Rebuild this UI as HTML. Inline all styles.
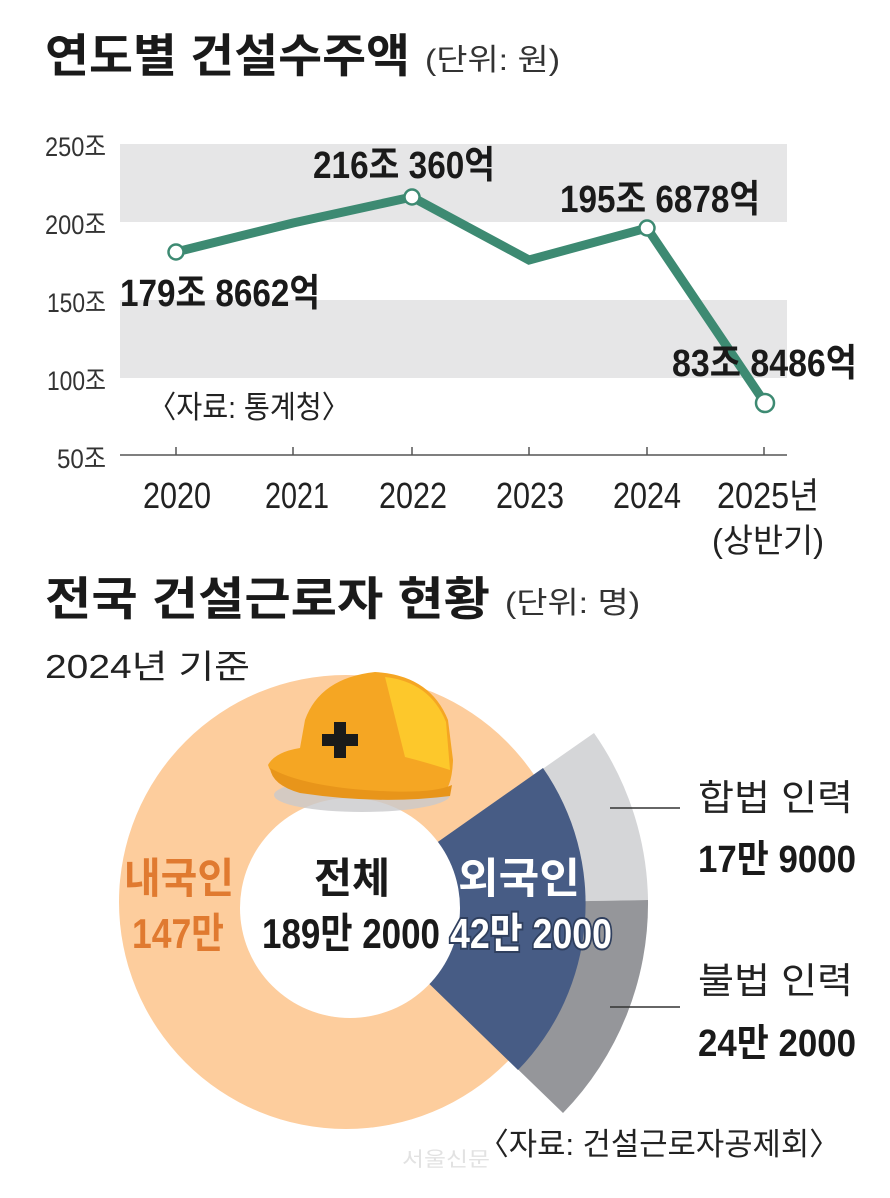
<!DOCTYPE html>
<html><head><meta charset="utf-8"><style>
html,body{margin:0;padding:0;background:#fff;}
svg{display:block}
text{font-family:"Liberation Sans Narrow","Liberation Sans","Noto Sans CJK KR",sans-serif}
.b{font-weight:bold}
</style></head><body>
<svg width="890" height="1198" viewBox="0 0 890 1198" xmlns="http://www.w3.org/2000/svg" fill="#1a1a1a">
<rect width="890" height="1198" fill="#fff"/>
<text x="45" y="72" font-size="46" class="b" textLength="365" lengthAdjust="spacingAndGlyphs">연도별 건설수주액</text>
<text x="425" y="70" font-size="30" textLength="135" lengthAdjust="spacingAndGlyphs" fill="#333">(단위: 원)</text>

<rect x="120" y="144" width="667" height="78" fill="#e6e6e7"/>
<rect x="120" y="300" width="667" height="78" fill="#e6e6e7"/>
<g font-size="27" fill="#333">
<text x="45" y="156" textLength="61" lengthAdjust="spacingAndGlyphs">250조</text>
<text x="45" y="234" textLength="61" lengthAdjust="spacingAndGlyphs">200조</text>
<text x="47" y="312" textLength="59" lengthAdjust="spacingAndGlyphs">150조</text>
<text x="47" y="390" textLength="59" lengthAdjust="spacingAndGlyphs">100조</text>
<text x="57" y="468" textLength="49" lengthAdjust="spacingAndGlyphs">50조</text>
</g>
<line x1="120" y1="455" x2="787" y2="455" stroke="#555" stroke-width="1.5"/>
<g stroke="#555" stroke-width="1.5">
<line x1="176" y1="447" x2="176" y2="455"/><line x1="293" y1="447" x2="293" y2="455"/>
<line x1="412" y1="447" x2="412" y2="455"/><line x1="529" y1="447" x2="529" y2="455"/>
<line x1="647" y1="447" x2="647" y2="455"/><line x1="764" y1="447" x2="764" y2="455"/>
</g>
<g font-size="36" fill="#222" text-anchor="middle">
<text x="177" y="508" textLength="68" lengthAdjust="spacingAndGlyphs">2020</text>
<text x="297" y="508" textLength="64" lengthAdjust="spacingAndGlyphs">2021</text>
<text x="413" y="508" textLength="68" lengthAdjust="spacingAndGlyphs">2022</text>
<text x="530" y="508" textLength="68" lengthAdjust="spacingAndGlyphs">2023</text>
<text x="647" y="508" textLength="68" lengthAdjust="spacingAndGlyphs">2024</text>
<text x="768" y="508" textLength="102" lengthAdjust="spacingAndGlyphs">2025년</text>
<text x="768" y="552" font-size="33" textLength="112" lengthAdjust="spacingAndGlyphs">(상반기)</text>
</g>
<polyline points="176,252 293,223 412,197 529,260 647,228 765,403" fill="none" stroke="#3d8a72" stroke-width="9" stroke-linejoin="miter"/>
<g fill="#fff" stroke="#3d8a72" stroke-width="2.5">
<circle cx="176" cy="252" r="7.5"/><circle cx="412" cy="197" r="7.5"/>
<circle cx="647" cy="228" r="7.5"/><circle cx="765" cy="403" r="9"/>
</g>
<g font-size="38" class="b" fill="#1a1a1a">
<text x="313" y="178" textLength="182" lengthAdjust="spacingAndGlyphs">216조 360억</text>
<text x="560" y="212" textLength="200" lengthAdjust="spacingAndGlyphs">195조 6878억</text>
<text x="120" y="306" textLength="200" lengthAdjust="spacingAndGlyphs">179조 8662억</text>
<text x="672" y="376" textLength="185" lengthAdjust="spacingAndGlyphs">83조 8486억</text>
</g>
<text x="148" y="418" font-size="31" fill="#222" textLength="202" lengthAdjust="spacingAndGlyphs">〈자료: 통계청〉</text>

<text x="45" y="615" font-size="46" class="b" textLength="445" lengthAdjust="spacingAndGlyphs">전국 건설근로자 현황</text>
<text x="505" y="613" font-size="30" textLength="135" lengthAdjust="spacingAndGlyphs" fill="#333">(단위: 명)</text>
<text x="45" y="678" font-size="33" fill="#222" textLength="205" lengthAdjust="spacingAndGlyphs">2024년 기준</text>

<circle cx="346" cy="902" r="227" fill="#fdcd9d"/>
<path d="M348,905 L594,733 A300,300 0 0 1 648,900 Z" fill="#d5d6d8"/>
<path d="M348,905 L648,900 A300,300 0 0 1 563,1113 Z" fill="#95969a"/>
<path d="M348,905 L543,768 A238,238 0 0 1 518,1070 Z" fill="#475c85"/>
<circle cx="350" cy="908" r="110" fill="#fff"/>
<!-- hardhat -->
<ellipse cx="362" cy="795" rx="88" ry="17" fill="#c9c9cc" opacity="0.8"/>
<path d="M268,765 Q275,752 300,748 L305,720 Q320,678 375,672 Q430,675 448,720 L453,760 Q452,790 440,795 Q360,800 300,785 Q272,780 268,765 Z" fill="#f5a623"/>
<path d="M385,677 Q430,682 446,722 L450,770 Q425,762 405,757 Z" fill="#fdc82b"/>
<path d="M270,768 Q300,785 365,790 Q430,795 452,785 L450,796 Q380,805 300,793 Q272,785 270,768 Z" fill="#e8951a"/>
<path d="M322,734 h12 v-12 h12 v12 h12 v12 h-12 v12 h-12 v-12 h-12 z" fill="#1a1a1a"/>
<g font-size="42" class="b">
<text x="124" y="893" fill="#e07a30" textLength="110" lengthAdjust="spacingAndGlyphs">내국인</text>
<text x="132" y="948" fill="#e07a30" textLength="92" lengthAdjust="spacingAndGlyphs">147만</text>
<text x="314" y="893" fill="#1a1a1a" textLength="76" lengthAdjust="spacingAndGlyphs">전체</text>
<text x="262" y="948" fill="#1a1a1a" textLength="178" lengthAdjust="spacingAndGlyphs">189만 2000</text>
<text x="458" y="893" fill="#ffffff" textLength="122" lengthAdjust="spacingAndGlyphs">외국인</text>
<text x="450" y="948" fill="#ffffff" stroke="#2f3f5e" stroke-width="4" paint-order="stroke" textLength="162" lengthAdjust="spacingAndGlyphs">42만 2000</text>
</g>
<line x1="610" y1="808" x2="680" y2="808" stroke="#333" stroke-width="1.5"/>
<line x1="610" y1="1007" x2="680" y2="1007" stroke="#333" stroke-width="1.5"/>
<text x="698" y="810" font-size="36" fill="#222" textLength="155" lengthAdjust="spacingAndGlyphs">합법 인력</text>
<text x="698" y="872" font-size="38" class="b" textLength="158" lengthAdjust="spacingAndGlyphs">17만 9000</text>
<text x="698" y="993" font-size="36" fill="#222" textLength="155" lengthAdjust="spacingAndGlyphs">불법 인력</text>
<text x="698" y="1056" font-size="38" class="b" textLength="158" lengthAdjust="spacingAndGlyphs">24만 2000</text>
<text x="478" y="1155" font-size="31" fill="#222" textLength="362" lengthAdjust="spacingAndGlyphs">〈자료: 건설근로자공제회〉</text>
<text x="402" y="1166" font-size="20" fill="#e2e2e2" textLength="88" lengthAdjust="spacingAndGlyphs">서울신문</text>
</svg>
</body></html>
